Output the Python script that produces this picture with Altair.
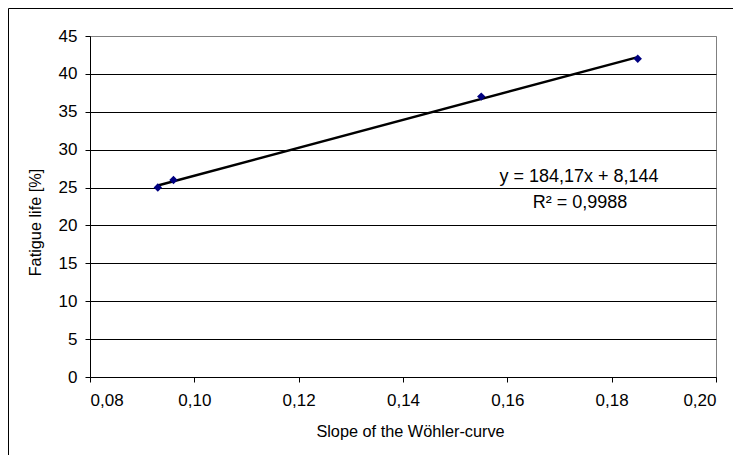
import altair as alt
import pandas as pd

# ---- data ----
slope = [0.093, 0.096, 0.155, 0.185]
fatigue = [25, 26, 37, 42]
x_ticks = [0.08, 0.10, 0.12, 0.14, 0.16, 0.18, 0.20]
y_ticks = [0, 5, 10, 15, 20, 25, 30, 35, 40, 45]
eq_text = "y = 184,17x + 8,144"
r2_text = "R\u00b2 = 0,9988"
x_title = "Slope of the W\u00f6hler-curve"
y_title = "Fatigue life [%]"

df = pd.DataFrame({"slope": slope, "fatigue": fatigue})
FONT = "Liberation Sans"

x_enc = alt.X(
    "slope:Q",
    scale=alt.Scale(domain=[0.08, 0.20], nice=False, zero=False),
    axis=alt.Axis(
        values=x_ticks,
        labelExpr="replace(format(datum.value, '.2f'), '.', ',')",
        title=x_title,
        grid=False,
        labelPadding=10,
        titleX=320,
        titleY=54,
        titleBaseline="middle",
    ),
)
y_enc = alt.Y(
    "fatigue:Q",
    scale=alt.Scale(domain=[0, 45], nice=False),
    axis=alt.Axis(
        values=y_ticks,
        format="d",
        title=y_title,
        grid=True,
        gridColor={"condition": {"test": "datum.value === 45", "value": "#808080"}, "value": "#000000"},
        gridWidth=1,
        labelPadding=8,
        titleX=-55,
        titleY=186,
        titleBaseline="middle",
        titleAlign="center",
    ),
)

one = alt.Chart(pd.DataFrame({"k": [0]}))

border = one.mark_rect(fillOpacity=0, stroke="black", strokeWidth=1).encode(
    x=alt.value(-81.5), x2=alt.value(1000), y=alt.value(-27.5), y2=alt.value(1000)
)

trend = (
    alt.Chart(df)
    .transform_regression("slope", "fatigue")
    .mark_line(color="black", strokeWidth=2.5)
    .encode(x=x_enc, y=y_enc)
)

points = (
    alt.Chart(df)
    .mark_point(shape="diamond", filled=True, color="#000080", size=70, opacity=1)
    .encode(x=x_enc, y=y_enc)
)

eq = one.mark_text(font=FONT, fontSize=18, color="black", align="center", baseline="middle").encode(
    x=alt.value(489), y=alt.value(141), text=alt.value(eq_text)
)
r2 = one.mark_text(font=FONT, fontSize=18, color="black", align="center", baseline="middle").encode(
    x=alt.value(490), y=alt.value(167), text=alt.value(r2_text)
)

chart = (
    alt.layer(border, trend, points, eq, r2)
    .properties(
        width=626,
        height=341,
        autosize=alt.AutoSizeParams(type="none"),
        padding={"left": 82, "top": 28, "right": 17, "bottom": 78},
        background="white",
    )
    .configure_view(stroke="#808080", strokeWidth=1)
    .configure_axis(
        labelFont=FONT,
        labelFontSize=17,
        labelColor="black",
        titleFont=FONT,
        titleFontSize=16.3,
        titleFontWeight="normal",
        titleColor="black",
        domainColor="black",
        domainWidth=1,
        tickColor="black",
        tickSize=5,
    )
)

chart.save("out.html", embed_options={"renderer": "svg", "actions": False})
